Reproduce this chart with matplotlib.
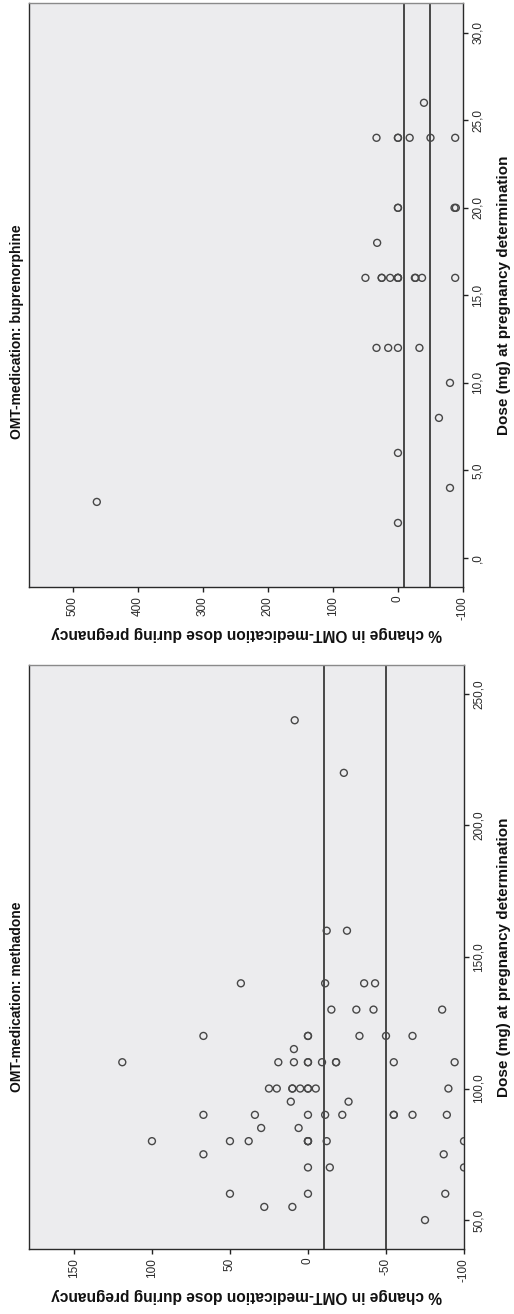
import matplotlib
matplotlib.use("Agg")
import matplotlib.pyplot as plt
from matplotlib.ticker import FuncFormatter, FixedLocator

# ---------------- data ----------------
bup_title = "OMT-medication: buprenorphine"
met_title = "OMT-medication: methadone"
x_label = "% change in OMT-medication dose during pregnancy"
y_label = "Dose (mg) at pregnancy determination"

bup_dose = [26, 24, 24, 24, 24, 24, 24, 20, 20, 20, 20, 18,
            16, 16, 16, 16, 16, 16, 16, 16, 16, 16, 16,
            12, 12, 12, 12, 10, 8, 6, 4, 3.2, 2]
bup_pct = [-40, 33, 0, 0, -18, -50, -88, 0, 0, -87, -89, 32,
           50, 25, 25, 12, 0, 0, 0, -26, -27, -37, -88,
           33, 15, 0, -33, -80, -63, 0, -80, 463, 0]

met_dose = [240, 220, 160, 160,
            140, 140, 140, 140,
            130, 130, 130, 130,
            120, 120, 120, 120, 120, 120,
            115,
            110, 110, 110, 110, 110, 110, 110, 110, 110, 110,
            100, 100, 100, 100, 100, 100, 100, 100, 100,
            95, 95,
            90, 90, 90, 90, 90, 90, 90, 90, 90,
            85, 85,
            80, 80, 80, 80, 80, 80, 80, 80,
            75, 75,
            70, 70, 70,
            60, 60, 60,
            55, 55,
            50]
met_pct = [8.5, -23, -12, -25,
           43, -11, -36, -43,
           -15, -31, -42, -86,
           67, 0, 0, -33, -50, -67,
           9,
           119, 19, 9, 0, 0, -9, -18, -18, -55, -94,
           25, 20, 10, 10, 5, 0, 0, -5, -90,
           11, -26,
           67, 34, 0, -11, -22, -55, -55, -67, -89,
           30, 6,
           100, 50, 38, 0, 0, 0, -12, -100,
           67, -87,
           0, -14, -100,
           50, 0, -88,
           28, 10,
           -75]

ref_lines = [-10, -50]

bup_pct_ticks = [500, 400, 300, 200, 100, 0, -100]
bup_dose_ticks = [0, 5, 10, 15, 20, 25, 30]
met_pct_ticks = [150, 100, 50, 0, -50, -100]
met_dose_ticks = [50, 100, 150, 200, 250]

# ---------------- figure ----------------
W, H = 514, 1314
fig = plt.figure(figsize=(W / 100, H / 100), dpi=100)
fig.patch.set_facecolor("white")

tick_font = ["Liberation Sans Narrow", "Liberation Sans", "DejaVu Sans"]
bold_font = ["Liberation Sans", "DejaVu Sans"]


def fx(px):
    return px / W


def fy(py):
    return 1 - py / H


def dose_fmt(v, pos):
    s = f"{v:.1f}".replace(".", ",")
    if s.startswith("0,"):
        s = s[1:]
    return s


def pct_fmt(v, pos):
    return f"{v:.0f}"


def make_panel(rect_px, dose, pct, xlim, ylim, xticks, yticks, title, title_y):
    l, t, r, b = rect_px
    ax = fig.add_axes([fx(l), fy(b), (r - l) / W, (b - t) / H])
    ax.set_facecolor("#ECECEE")
    for ref in ref_lines:
        ax.axvline(ref, color="#1a1a1a", lw=1.1, zorder=2)
    ax.scatter(pct, dose, s=25, facecolors="none", edgecolors="#474747",
               linewidths=1.0, zorder=3)
    ax.set_xlim(*xlim)
    ax.set_ylim(*ylim)
    ax.xaxis.set_major_locator(FixedLocator(xticks))
    ax.yaxis.set_major_locator(FixedLocator(yticks))
    ax.xaxis.set_major_formatter(FuncFormatter(pct_fmt))
    ax.yaxis.set_major_formatter(FuncFormatter(dose_fmt))
    ax.yaxis.tick_right()
    ax.tick_params(axis="both", direction="out", length=3.8, width=1.0,
                   color="#222222", pad=2.5, labelsize=8.5, labelcolor="#2a2a2a")
    ax.tick_params(axis="x", labelrotation=90)
    ax.tick_params(axis="y", labelrotation=90)
    for lab in ax.get_xticklabels() + ax.get_yticklabels():
        lab.set_fontfamily(tick_font)
    for lab in ax.get_yticklabels():
        lab.set_verticalalignment("center")
    for sp in ax.spines.values():
        sp.set_color("#2a2a2a")
        sp.set_linewidth(1.0)
    ax.spines["top"].set_color("#8a8a8a")
    # texts
    cx = (l + r) / 2
    cy = (t + b) / 2
    fig.text(fx(17), fy(title_y), title, rotation=90, ha="center", va="center",
             fontsize=10, fontweight="bold", family=tick_font, color="#111111")
    fig.text(fx(cx), fy(b + 47), x_label, rotation=180, ha="center", va="center",
             fontsize=11.2, fontweight="bold", family=bold_font, color="#111111")
    fig.text(fx(504), fy(cy), y_label, rotation=90, ha="center", va="center",
             fontsize=11, fontweight="bold", family=bold_font, color="#111111")
    return ax


make_panel((29.3, 3, 463, 587), bup_dose, bup_pct, (566.8, -100), (-1.66, 31.7),
           bup_pct_ticks, bup_dose_ticks, bup_title, 332)
make_panel((29.3, 665, 464, 1249), met_dose, met_pct, (178.6, -100), (39.0, 261.0),
           met_pct_ticks, met_dose_ticks, met_title, 997)

fig.savefig("out.png", dpi=100, facecolor="white")
